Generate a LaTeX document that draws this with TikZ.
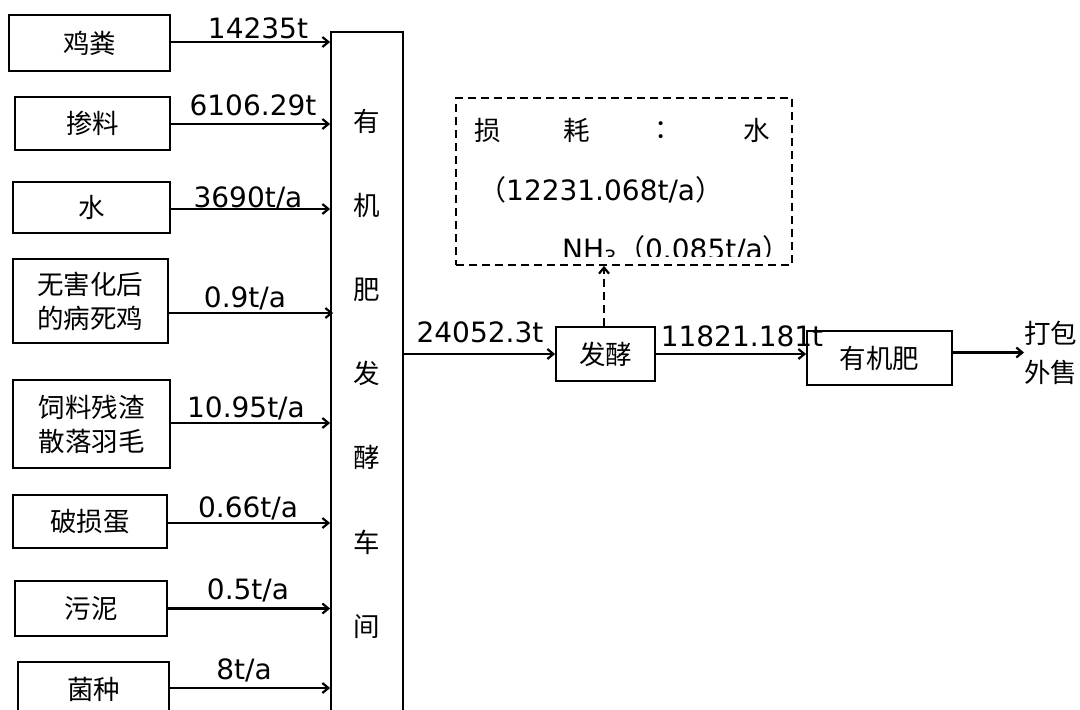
\documentclass[tikz,border=0pt]{standalone}
\usepackage{fontspec}
\setmainfont{DejaVu Sans}
\newfontfamily\cjk{Noto Sans CJK SC}
\usetikzlibrary{arrows.meta}
\begin{document}
\begin{tikzpicture}[x=1pt,y=-1pt,
  box/.style={draw, line width=1.8pt, inner sep=0pt, align=center},
  arr/.style={line width=2.2pt, -{Straight Barb[length=6pt,width=10pt]}},
  num/.style={anchor=base, inner sep=0pt, font=\fontsize{28}{30}\selectfont},
  zh/.style={font=\cjk\fontsize{26.5}{34}\selectfont},
]
\useasboundingbox (0,0) rectangle (1080,710);
% left input boxes
\node[box, zh, minimum width=161, minimum height=56] (b1) at (89.5,43) {鸡粪};
\node[box, zh, minimum width=155, minimum height=53] (b2) at (92.5,123.5) {掺料};
\node[box, zh, minimum width=157, minimum height=51] (b3) at (91.5,207.5) {水};
\node[box, zh, minimum width=155, minimum height=84] (b4) at (90.5,301) {无害化后\\的病死鸡};
\node[box, zh, minimum width=157, minimum height=88] (b5) at (91.5,424) {饲料残渣\\散落羽毛};
\node[box, zh, minimum width=154, minimum height=53] (b6) at (90,521.5) {破损蛋};
\node[box, zh, minimum width=152, minimum height=55] (b7) at (91,608.5) {污泥};
\node[box, zh, minimum width=151, minimum height=54] (b8) at (93.5,689) {菌种};
% workshop
\node[box, minimum width=72, minimum height=690] (big) at (367,377) {};
\foreach \c [count=\i] in {有,机,肥,发,酵,车,间}
  \node[zh] (v\i) at (367,{121+84.2*(\i-1)}) {\c};
% input arrows
\draw[arr] ([yshift=1pt]b1.east) -- ([yshift=1pt]b1.east -| big.west);
\draw[arr] ([yshift=-0.5pt]b2.east) -- ([yshift=-0.5pt]b2.east -| big.west);
\draw[arr] ([yshift=-1.5pt]b3.east) -- ([yshift=-1.5pt]b3.east -| big.west);
\draw[arr] ([yshift=-12pt]b4.east) -- ([yshift=-12pt,xshift=3pt]b4.east -| big.west);
\draw[arr] ([yshift=1pt]b5.east) -- ([yshift=1pt]b5.east -| big.west);
\draw[arr] ([yshift=-1.5pt]b6.east) -- ([yshift=-1.5pt]b6.east -| big.west);
\draw[arr] (b7.east) -- (b7.east -| big.west);
\draw[arr] ([yshift=1pt]b8.east) -- ([yshift=1pt]b8.east -| big.west);
% input labels
\node[num] (l1) at (258,38) {14235t};
\node[num] (l2) at (253,115) {6106.29t};
\node[num] (l3) at (248,207) {3690t/a};
\node[num] (l4) at (245,307) {0.9t/a};
\node[num] (l5) at (246,417) {10.95t/a};
\node[num] (l6) at (248,517) {0.66t/a};
\node[num] (l7) at (248,599) {0.5t/a};
\node[num] (l8) at (244,679) {8t/a};
% process chain
\node[box, zh, minimum width=99, minimum height=54] (fa) at (605.5,354) {发酵};
\node[box, zh, minimum width=145, minimum height=54] (yj) at (879.5,358) {有机肥};
\node[zh, anchor=west, align=left, inner sep=0pt, font=\cjk\fontsize{26.5}{39}\selectfont] (sell) at (1024,352.5) {打包\\外售};
\draw[arr] (big.east |- fa.west) -- (fa.west);
\draw[arr] (fa.east) -- (fa.east -| yj.west);
\draw[arr] (yj.east |- sell.west) -- (sell.west);
\node[num] (l9) at (480,342) {24052.3t};
\node[num] (l10) at (742,346) {11821.181t};
% losses
\node[draw, line width=1.8pt, dash pattern=on 8pt off 5pt, minimum width=336, minimum height=167, inner sep=0pt] (loss) at (624,181.5) {};
\draw[arr, dash pattern=on 8pt off 5pt] ([xshift=-1.5pt]fa.north) -- ([xshift=-1.5pt]fa.north |- loss.south);
\node[zh] (s1) at (488,130) {损};
\node[zh] (s2) at (577,130) {耗};
\node[zh] (s3) at (668,130) {：};
\node[zh] (s4) at (757,130) {水};
\node[num, anchor=base west] (s5) at (478,200) {{\cjk （}12231.068t/a{\cjk ）}};
\begin{scope}
  \clip (450,220) rectangle (790,256);
  \node[num, anchor=base west] (s6) at (562,259) {NH\textsubscript{3}{\cjk （}0.085t/a{\cjk ）}};
\end{scope}
\end{tikzpicture}
\end{document}
